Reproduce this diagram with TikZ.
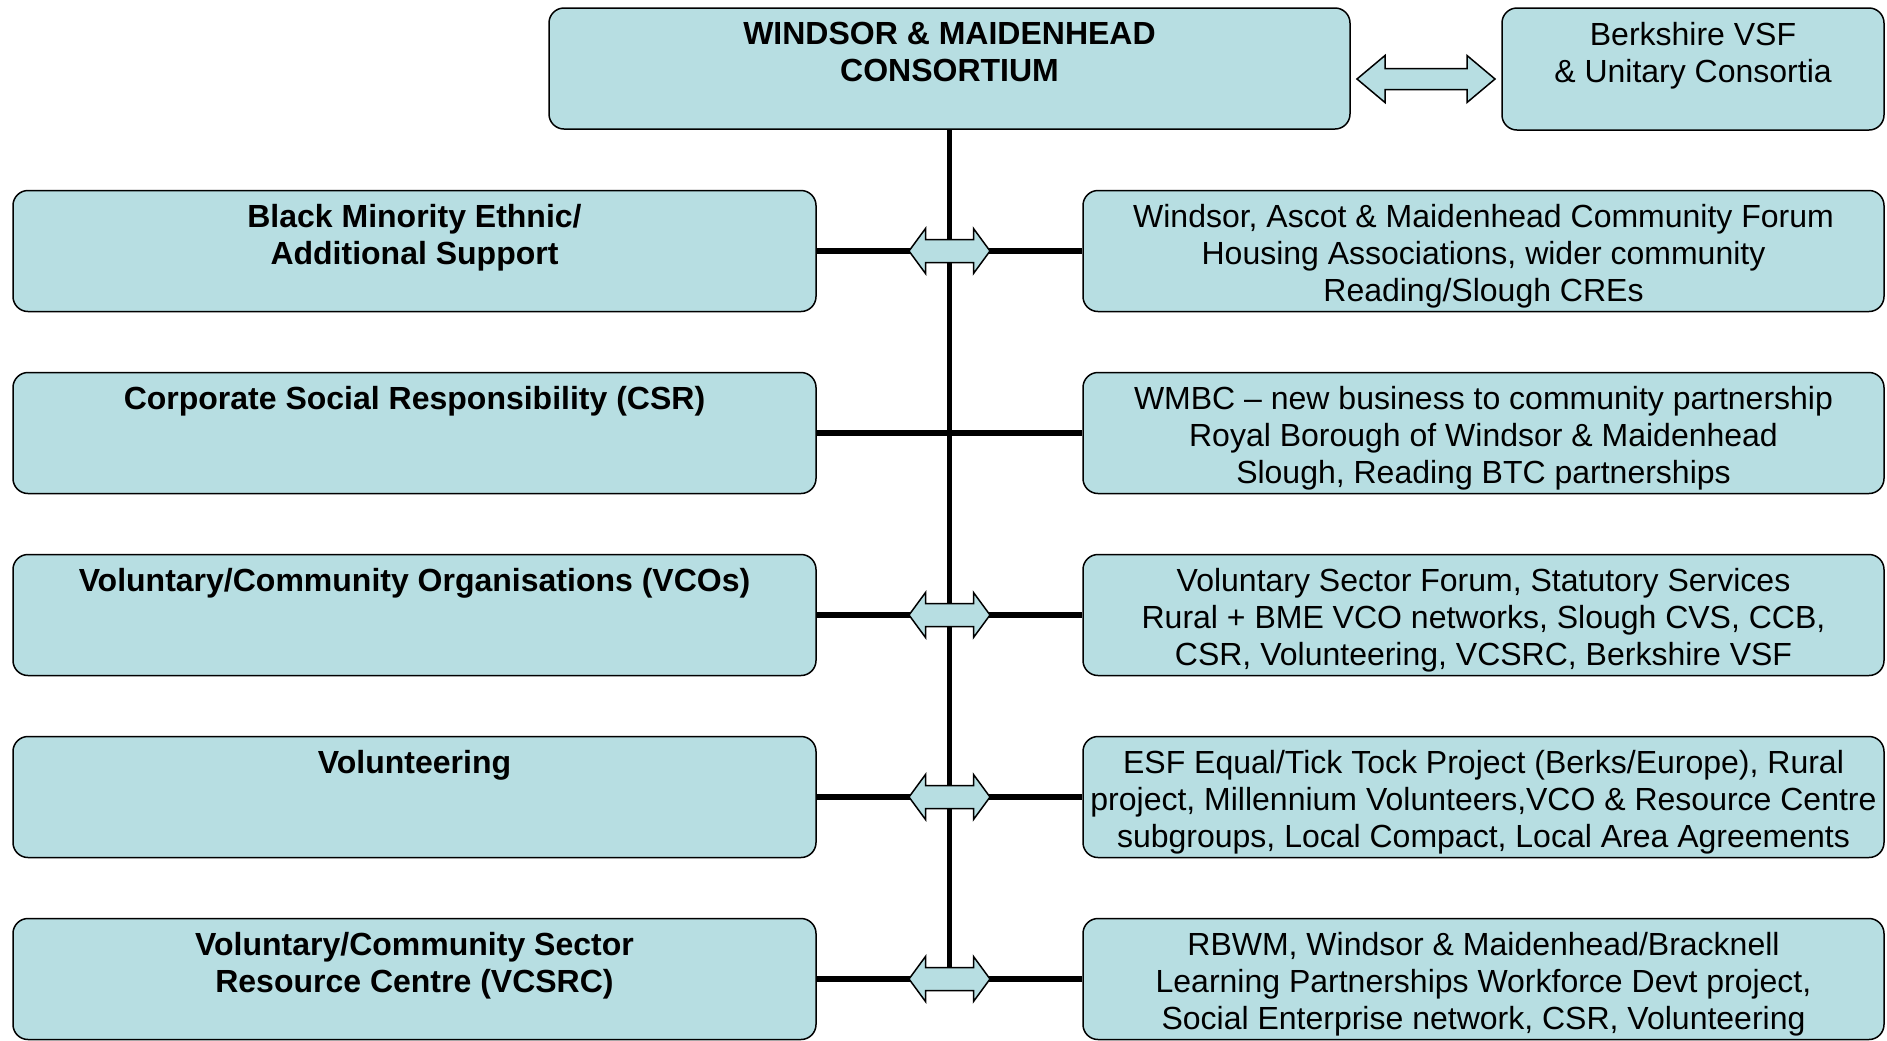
\documentclass[tikz,border=0pt]{standalone}
\usepackage{fontspec}
\setmainfont{Liberation Sans}
\definecolor{boxfill}{HTML}{B7DEE2}
\newcommand\DblArrowShape[5]{%
  \draw[arrowshape, shift={(#1)}] (-#2,0) -- (-#2+#3,-#4) -- (-#2+#3,-#5) -- (#2-#3,-#5) -- (#2-#3,-#4) -- (#2,0)
    -- (#2-#3,#4) -- (#2-#3,#5) -- (-#2+#3,#5) -- (-#2+#3,#4) -- cycle;}
\begin{document}
\begin{tikzpicture}[x=0.5pt,y=-0.5pt,
  box/.style={draw=black, line width=0.75pt, fill=boxfill, rounded corners=7.5pt, minimum height=60.5pt, inner sep=0pt},
  lbox/.style={box, minimum width=401.5pt},
  rbox/.style={box, minimum width=400.5pt},
  txt/.style={anchor=north, align=center, inner sep=0pt, font=\fontsize{16}{18.5}\selectfont},
  btxt/.style={anchor=north, align=center, inner sep=0pt, font=\fontsize{16}{18.5}\selectfont\bfseries},
  link/.style={line width=2.75pt},
  arrowshape/.style={draw=black, line width=0.75pt, fill=boxfill, line join=miter}]
\useasboundingbox (0,0) rectangle (1887,1040);
% top row
\node[box, minimum width=400.5pt] (top) at (949.5,68.5) {};
\node[btxt] (toptxt) at ([yshift=-7.2pt]top.north) {WINDSOR \& MAIDENHEAD\\CONSORTIUM};
\node[box, minimum width=191pt, minimum height=61pt] (berk) at (1693,69) {};
\node[txt] (berktxt) at ([yshift=-7.2pt]berk.north) {Berkshire VSF\\\& Unitary Consortia};
% left boxes
\node[lbox] (l1) at (414.5,251) {};
\node[lbox] (l2) at (414.5,433) {};
\node[lbox] (l3) at (414.5,615) {};
\node[lbox] (l4) at (414.5,797) {};
\node[lbox] (l5) at (414.5,979) {};
\node[btxt] (l1t) at ([yshift=-7.2pt]l1.north) {Black Minority Ethnic/\\Additional Support};
\node[btxt] (l2t) at ([yshift=-7.2pt]l2.north) {Corporate Social Responsibility (CSR)};
\node[btxt] (l3t) at ([yshift=-7.2pt]l3.north) {Voluntary/Community Organisations (VCOs)};
\node[btxt] (l4t) at ([yshift=-7.2pt]l4.north) {Volunteering};
\node[btxt] (l5t) at ([yshift=-7.2pt]l5.north) {Voluntary/Community Sector\\Resource Centre (VCSRC)};
% right boxes
\node[rbox] (r1) at (1483.5,251) {};
\node[rbox] (r2) at (1483.5,433) {};
\node[rbox] (r3) at (1483.5,615) {};
\node[rbox] (r4) at (1483.5,797) {};
\node[rbox] (r5) at (1483.5,979) {};
\node[txt] (r1t) at ([yshift=-7.2pt]r1.north) {Windsor, Ascot \& Maidenhead Community Forum\\Housing Associations, wider community\\Reading/Slough CREs};
\node[txt] (r2t) at ([yshift=-7.2pt]r2.north) {WMBC – new business to community partnership\\Royal Borough of Windsor \& Maidenhead\\Slough, Reading BTC partnerships};
\node[txt] (r3t) at ([yshift=-7.2pt]r3.north) {Voluntary Sector Forum, Statutory Services\\Rural + BME VCO networks, Slough CVS, CCB,\\CSR, Volunteering, VCSRC, Berkshire VSF};
\node[txt] (r4t) at ([yshift=-7.2pt]r4.north) {ESF Equal/Tick Tock Project (Berks/Europe), Rural\\project, Millennium Volunteers,VCO \& Resource Centre\\subgroups, Local Compact, Local Area Agreements};
\node[txt] (r5t) at ([yshift=-7.2pt]r5.north) {RBWM, Windsor \& Maidenhead/Bracknell\\Learning Partnerships Workforce Devt project,\\Social Enterprise network, CSR, Volunteering};
% connectors
\draw[link] (top.south) -- (top.south |- l5.east);
\draw[link] (l1.east) -- (r1.west);
\draw[link] (l2.east) -- (r2.west);
\draw[link] (l3.east) -- (r3.west);
\draw[link] (l4.east) -- (r4.west);
\draw[link] (l5.east) -- (r5.west);
% block arrows
\coordinate (a1) at (top.south |- l1.east);
\coordinate (a3) at (top.south |- l3.east);
\coordinate (a4) at (top.south |- l4.east);
\coordinate (a5) at (top.south |- l5.east);
\coordinate (ta) at (1426,79);
\DblArrowShape{a1}{40.5}{16.5}{22.5}{11.5}
\DblArrowShape{a3}{40.5}{16.5}{22.5}{11.5}
\DblArrowShape{a4}{40.5}{16.5}{22.5}{11.5}
\DblArrowShape{a5}{40.5}{16.5}{22.5}{11.5}
\DblArrowShape{ta}{69}{28}{23.5}{10.5}
\end{tikzpicture}
\end{document}
